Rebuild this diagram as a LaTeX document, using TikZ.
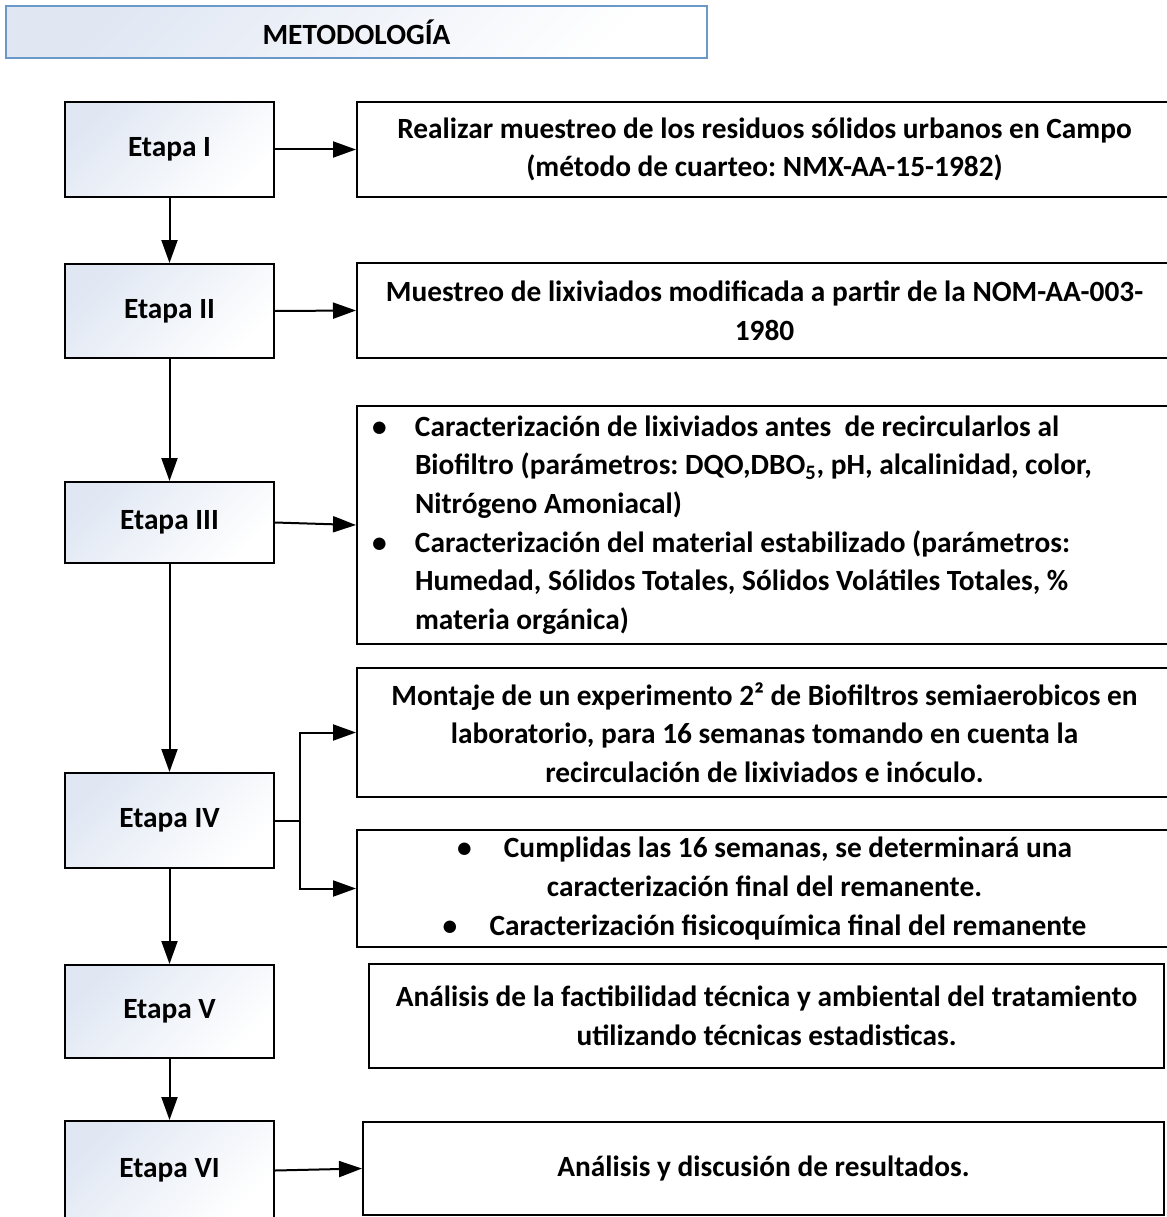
\documentclass[tikz,border=0pt]{standalone}
\usepackage{fontspec}
\setmainfont{Carlito}
\usetikzlibrary{arrows.meta}
\frenchspacing

\definecolor{etapablue}{HTML}{E0E7F3}
\definecolor{titleblue}{HTML}{6A98C8}

\newcommand{\viñeta}{\makebox[0.96cm][l]{\hspace{0.1cm}\textbullet}}

\begin{document}
\begin{tikzpicture}[>={Triangle[length=0.46cm,width=0.32cm]},line width=0.04cm,
	txt/.style={font=\fontsize{16.7}{22}\selectfont\bfseries},
	etapa/.style={draw,txt,top color=etapablue,middle color=white,bottom color=white,shading angle=45,
		minimum width=4.18cm,minimum height=1.9cm},
	tarea/.style={draw,txt,fill=white,align=center,minimum width=16.3cm,minimum height=1.9cm}]
	\useasboundingbox (0,0) rectangle (23.32,-24.34);

	\node[draw=titleblue,top color=etapablue,middle color=white,bottom color=white,shading angle=45,
		minimum width=14.02cm,minimum height=1.04cm,txt] (titulo) at (7.13,-0.64) {METODOLOGÍA};

	\node[etapa] (e1) at (3.39,-2.99)  {Etapa I};
	\node[etapa,minimum height=1.88cm] (e2) at (3.39,-6.22)  {Etapa II};
	\node[etapa,minimum height=1.62cm] (e3) at (3.39,-10.45) {Etapa III};
	\node[etapa] (e4) at (3.39,-16.41) {Etapa IV};
	\node[etapa,minimum height=1.86cm] (e5) at (3.39,-20.23) {Etapa V};
	\node[etapa,minimum height=1.98cm] (e6) at (3.39,-23.41) {Etapa VI};

	\node[tarea] (t1) at (15.29,-2.99) {Realizar muestreo de los residuos sólidos urbanos en Campo\\(método de cuarteo: NMX-AA-15-1982)};
	\node[tarea] (t2) at (15.29,-6.21) {Muestreo de lixiviados modificada a partir de la NOM-AA-003-\\1980};
	\node[tarea,minimum height=4.5cm,align=flush left,text width=15.9cm,inner sep=0.2cm] (t3) at (15.29,-10.5)
		{\viñeta Caracterización de lixiviados antes\ \ de recircularlos al\\
		\hspace*{0.96cm}Biofiltro (parámetros: DQO,DBO\textsubscript{5}, pH, alcalinidad, color,\\
		\hspace*{0.96cm}Nitrógeno Amoniacal)\\
		\viñeta Caracterización del material estabilizado (parámetros:\\
		\hspace*{0.96cm}Humedad, Sólidos Totales, Sólidos Volátiles Totales, \%\\
		\hspace*{0.96cm}materia orgánica)};
	\node[tarea,minimum height=2.58cm] (t4a) at (15.29,-14.65) {Montaje de un experimento 2² de Biofiltros semiaerobicos en\\laboratorio, para 16 semanas tomando en cuenta la\\recirculación de lixiviados e inóculo.};
	\node[tarea,minimum height=2.34cm] (t4b) at (15.29,-17.77) {\textbullet\hspace{1.1em}Cumplidas las 16 semanas, se determinará una\\caracterización final del remanente.\\\textbullet\hspace{1.1em}Caracterización fisicoquímica final del remanente};
	\node[tarea,minimum width=15.9cm,minimum height=2.08cm] (t5) at (15.33,-20.32) {Análisis de la factibilidad técnica y ambiental del tratamiento\\utilizando técnicas estadisticas.};
	\node[tarea,minimum width=16.02cm,minimum height=1.86cm] (t6) at (15.27,-23.37) {Análisis y discusión de resultados.};

	\coordinate (split) at (6.0,-16.41);

	\draw[->] (e1) -- (e2);		%I--II
	\draw[->] (e2) -- (e3);		%II--III
	\draw[->] (e3) -- (e4);		%III--IV
	\draw[->] (e4) -- (e5);		%IV--V
	\draw[->] (e5) -- (e6);		%V--VI
	%
	\draw[->] (e1.east) -- (t1.west);	%I--muestreo
	\draw[->] (e2.east) -- (t2.west);	%II--lixiviados
	\draw[->] (e3.east) -- (t3.west);	%III--caracterizacion
	\draw (e4.east) -- (split);
	\draw[->] (split) |- (t4a.west);		%IV--montaje
	\draw[->] (split) |- (t4b.west);		%IV--remanente
	\draw[->] (e6.east) -- (t6.west);	%VI--resultados
\end{tikzpicture}
\end{document}
